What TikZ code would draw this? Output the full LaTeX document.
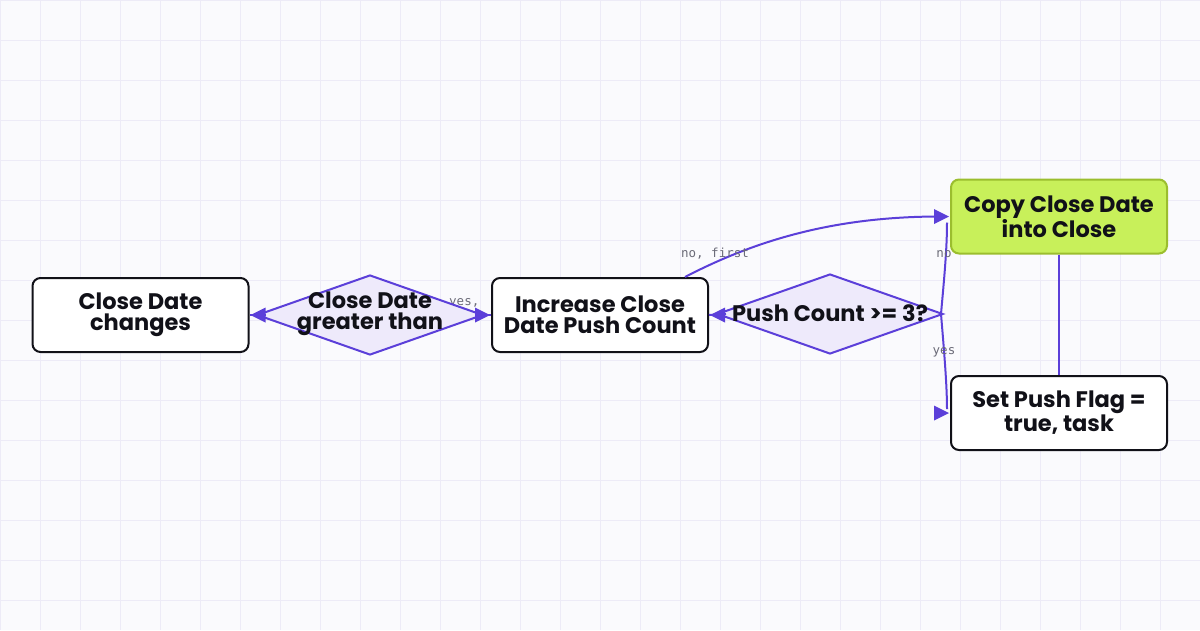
\documentclass[tikz,border=0pt]{standalone}
\usepackage{fontspec}
\setmainfont{Lato}
\setmonofont{DejaVu Sans Mono}
\newfontfamily\nodefont{Poppins}[UprightFont={* Bold}]
\usetikzlibrary{shapes.geometric,arrows.meta}
\definecolor{bg}{HTML}{FAFAFD}
\definecolor{gridc}{HTML}{EDEBF7}
\definecolor{edgec}{HTML}{5B3FD9}
\definecolor{dfill}{HTML}{EEEAFB}
\definecolor{gfill}{HTML}{C8F05A}
\definecolor{gdraw}{HTML}{9BBE2E}
\definecolor{lbl}{HTML}{6B6B78}
\definecolor{ink}{HTML}{111118}
\tikzset{
  box/.style={rectangle, rounded corners=8pt, draw=ink, line width=2pt, fill=white,
    minimum width=216pt, minimum height=74pt, inner sep=0pt, align=center,
    text=ink, font=\nodefont\fontsize{22.5}{20.5}\selectfont},
  gbox/.style={box, draw=gdraw, fill=gfill},
  dia/.style={diamond, draw=edgec, fill=dfill, line width=2pt, inner sep=0pt,
    minimum width=226pt, minimum height=80pt},
  dtext/.style={align=center, text=ink, inner sep=0pt, font=\nodefont\fontsize{22.5}{20.5}\selectfont},
  conn/.style={draw=edgec, line width=2pt},
  tipd/.style={fill=edgec, draw=none},
  elabel/.style={text=lbl, inner sep=0pt, font=\ttfamily\fontsize{12.5}{13}\selectfont}
}
\begin{document}
\begin{tikzpicture}[x=1pt,y=1pt]
\fill[bg] (0,0) rectangle (1200,-630);
\useasboundingbox (0,0) rectangle (1200,-630);
\foreach \i in {0,40,...,1200} \draw[gridc, line width=1pt] (\i,0) -- (\i,-630);
\foreach \j in {0,40,...,600} \draw[gridc, line width=1pt] (0,-\j) -- (1200,-\j);

% label partly hidden behind box C
\node[elabel, anchor=west] (lyes1) at (449,-303) {yes,};

\node[box] (A) at (140.5,-315) {Close Date\\changes};
\node[dia] (B) at (370,-315) {};
\node[dtext] (Bt) at (370,-314) {Close Date\\greater than};
\node[box] (C) at (600,-315) {Increase Close\\Date Push Count};
\node[dia] (D) at (830,-314) {};
\node[dtext] (Dt) at (830,-313) {Push Count >= 3?};
\node[gbox] (E) at (1059,-216.5) {Copy Close Date\\into Close};
\node[box] (F) at (1059,-413) {Set Push Flag =\\true, task};

% connectors
\draw[conn] ([xshift=10pt]B.west) -- (A.east);
\fill[tipd] ([xshift=1pt]A.east) -- ++(15,7.5) -- ++(0,-15) -- cycle;
\draw[conn] (B.east) -- (C.west);
\fill[tipd] ([xshift=-1pt]C.west) -- ++(-15,7.5) -- ++(0,-15) -- cycle;
\draw[conn] ([xshift=10pt]D.west) -- (C.east);
\fill[tipd] ([xshift=1pt]C.east) -- ++(15,7.5) -- ++(0,-15) -- cycle;
\draw[conn] ([xshift=85pt]C.north) .. controls (760,-238) and (840,-216) .. ([xshift=-6pt]E.west);
\draw[conn] ([xshift=-3pt]D.east) .. controls (944,-280) and (947,-250) .. ([xshift=-3pt,yshift=-6pt]E.west);
\fill[tipd] ([xshift=-1pt]E.west) -- ++(-15,7.5) -- ++(0,-15) -- cycle;
\draw[conn] ([xshift=-3pt]D.east) .. controls (944,-350) and (947,-385) .. ([xshift=-3pt,yshift=4pt]F.west);
\fill[tipd] ([xshift=-1pt]F.west) -- ++(-15,7.5) -- ++(0,-15) -- cycle;
\draw[conn] (E.south) -- (F.north);

\node[elabel] (lno1) at (715,-254) {no, first};
\node[elabel] (lno2) at (944,-254) {no};
\node[elabel] (lyes2) at (944,-352) {yes};
\end{tikzpicture}
\end{document}
